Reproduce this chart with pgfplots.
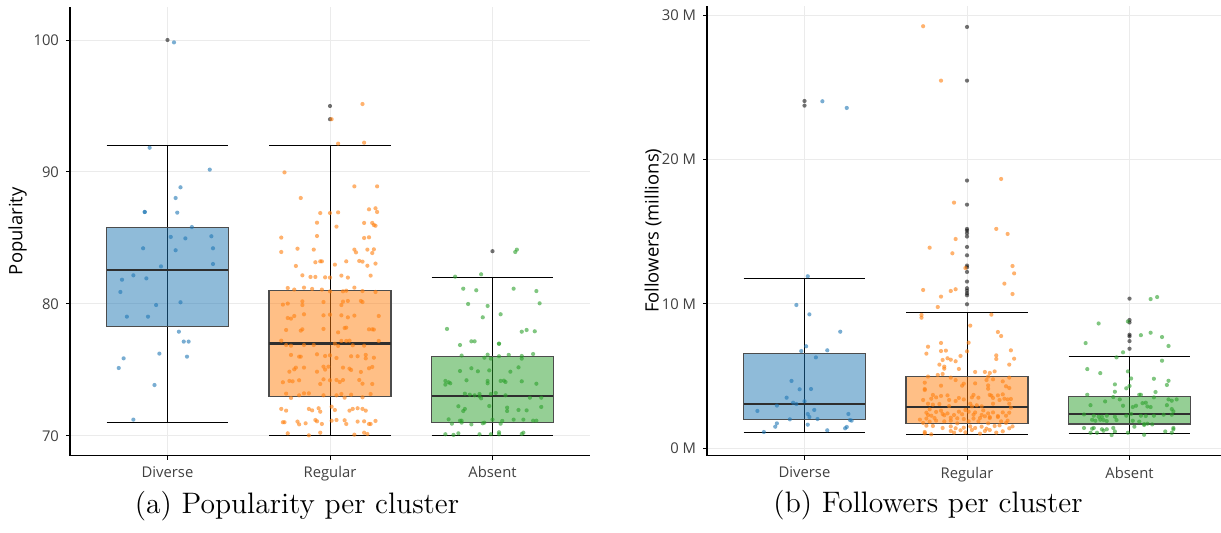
\documentclass[border=0pt]{standalone}
\usepackage{fontspec}
\usepackage{pgfplots}
\usepackage{pgfplotstable}
\pgfplotsset{compat=1.18}
\newfontfamily\osans{Open Sans}
\definecolor{tabblue}{HTML}{1F77B4}
\definecolor{taborange}{HTML}{FF7F0E}
\definecolor{tabgreen}{HTML}{2CA02C}
\definecolor{gridc}{HTML}{EBEBEB}

% ---------- Popularity (left) ----------
\pgfplotstableread{
dx v
0.04 99.82
-0.11 91.84
0.26 90.18
0.08 88.84
0.05 88.03
-0.14 86.97
-0.14 86.97
0.06 86.92
0.15 85.83
0.02 85.08
0.11 84.97
0.27 85.13
-0.15 84.22
0.05 84.07
0.28 84.22
0.28 83.03
-0.04 82.85
-0.21 82.17
-0.28 81.84
-0.13 81.94
-0.29 80.91
-0.07 79.92
0.08 80.13
-0.25 79.04
-0.12 79.04
0.07 77.90
0.10 77.15
0.13 77.15
-0.05 76.24
-0.27 75.88
0.12 76.01
-0.30 75.15
-0.08 73.86
-0.21 71.24
}\pdiv
\pgfplotstableread{
v
100
}\pdivout
\pgfplotstableread{
dx v
0.20 95.15
0.01 94.00
0.05 92.15
0.21 92.22
-0.28 89.97
0.15 88.91
0.29 88.91
-0.18 88.03
-0.06 86.89
0.00 86.89
0.05 86.94
0.24 87.17
0.28 87.25
0.29 86.97
-0.08 86.16
0.04 85.86
0.21 86.14
0.26 86.14
0.27 85.98
0.28 85.93
-0.30 85.03
-0.08 85.15
0.21 85.00
0.24 85.05
-0.30 83.94
-0.20 84.19
-0.10 84.12
0.15 84.12
0.16 83.91
0.23 84.12
0.27 84.14
0.26 83.86
-0.21 82.88
-0.09 83.16
-0.06 83.23
-0.05 83.23
0.03 82.98
0.10 83.23
0.18 83.26
0.20 83.21
0.23 82.90
0.28 83.06
-0.17 82.17
-0.12 82.05
-0.09 82.05
-0.03 82.02
0.00 82.00
0.07 82.15
0.11 82.00
0.25 82.15
-0.26 81.21
-0.22 81.09
-0.16 81.24
-0.11 81.14
-0.05 81.09
0.00 80.96
0.08 80.96
0.10 81.01
0.15 81.24
0.20 80.98
0.28 80.91
-0.29 79.95
-0.26 80.03
-0.17 80.20
-0.17 79.92
-0.04 80.15
0.07 79.92
0.08 80.18
0.11 80.23
0.19 80.23
0.20 80.15
-0.26 78.94
-0.24 78.89
-0.22 79.09
-0.16 79.22
-0.04 79.14
0.00 79.19
0.07 79.14
0.11 78.99
0.15 79.12
0.30 79.09
-0.27 78.03
-0.18 77.98
-0.17 78.08
-0.04 78.11
0.05 77.85
0.09 78.18
0.10 78.21
0.24 78.08
0.26 78.08
0.27 78.06
-0.30 77.22
-0.24 76.84
-0.27 76.89
-0.16 76.89
-0.10 76.89
0.03 76.99
0.05 76.82
0.07 77.20
0.10 77.20
0.12 77.22
0.14 76.87
0.21 76.84
0.30 77.20
-0.24 76.14
-0.19 76.01
-0.18 76.01
-0.08 76.19
-0.03 76.06
0.00 76.11
0.04 75.91
0.13 76.04
0.17 76.04
0.22 76.14
0.22 75.88
0.27 75.93
-0.25 74.87
-0.22 75.05
-0.21 75.18
-0.16 75.18
-0.08 74.87
-0.04 75.25
-0.03 75.03
-0.01 75.25
0.08 75.18
0.12 75.10
0.13 75.00
0.19 74.85
0.24 75.13
0.26 75.23
-0.29 74.07
-0.25 74.17
-0.23 74.14
-0.19 74.22
-0.06 73.94
-0.04 74.29
0.00 74.22
0.04 74.24
0.06 74.09
0.08 74.24
0.18 74.24
0.20 73.96
0.26 73.94
-0.27 73.21
-0.19 73.08
-0.16 73.23
-0.13 73.23
-0.04 73.08
0.04 73.08
0.07 73.18
0.09 72.90
0.13 73.13
0.20 72.93
0.25 73.18
-0.24 72.88
-0.30 72.05
-0.27 71.92
-0.13 72.05
-0.11 71.94
-0.07 72.10
-0.06 71.84
0.01 72.22
0.03 71.97
0.12 71.92
0.14 72.05
0.17 72.10
0.20 72.05
0.22 71.92
-0.29 71.04
-0.28 71.04
-0.20 71.09
-0.19 70.88
-0.15 70.96
-0.09 71.21
-0.08 71.11
-0.05 70.91
0.01 71.16
0.04 71.21
0.09 71.19
0.10 70.91
0.17 71.09
0.21 71.11
0.24 70.91
0.25 70.91
0.28 71.14
-0.26 70.20
-0.13 70.05
-0.06 70.25
0.15 70.10
0.21 70.25
0.23 70.15
}\preg
\pgfplotstableread{
v
95
94
}\pregout
\pgfplotstableread{
dx v
0.14 83.94
0.15 84.12
-0.23 82.07
-0.07 82.25
-0.18 81.16
-0.10 81.04
0.13 81.16
0.27 80.98
0.29 80.05
-0.15 80.00
-0.03 79.85
0.05 79.22
-0.06 78.99
-0.28 78.11
0.18 77.90
0.21 78.03
0.26 77.93
-0.13 77.17
-0.11 77.17
0.04 76.99
0.04 76.99
-0.20 76.89
-0.19 76.09
-0.05 75.93
-0.03 76.16
-0.01 75.86
0.04 76.04
0.10 76.14
0.18 76.06
0.18 75.86
0.25 76.21
-0.20 74.92
-0.13 75.13
-0.09 74.90
-0.02 74.97
0.11 74.87
0.16 75.20
-0.29 74.17
-0.29 73.89
-0.27 74.07
-0.26 73.99
-0.16 74.22
-0.03 74.17
-0.03 73.99
0.05 74.17
0.07 74.19
0.08 74.09
0.18 74.14
0.27 73.96
-0.17 73.21
-0.14 73.13
-0.11 73.08
-0.08 73.18
-0.08 73.00
-0.07 72.85
-0.01 73.18
0.02 73.26
0.08 73.08
0.23 72.90
0.30 72.90
-0.02 72.27
-0.21 72.25
-0.17 72.05
-0.18 71.89
0.09 72.15
0.09 71.89
0.16 71.97
0.21 71.94
0.30 72.20
-0.27 71.26
-0.25 70.93
-0.20 71.16
-0.19 71.01
-0.19 71.16
-0.13 70.88
-0.06 70.96
-0.05 71.01
0.00 71.24
0.05 70.93
0.06 71.14
0.13 71.24
0.19 71.24
0.25 71.16
0.27 71.16
-0.29 70.13
-0.24 70.08
-0.21 70.20
-0.08 70.13
-0.01 70.13
0.04 70.28
0.04 70.13
0.18 70.15
0.19 70.25
}\pabs
\pgfplotstableread{
v
84
}\pabsout

% ---------- Followers (right), millions ----------
\pgfplotstableread{
dx v
0.11 24.04
0.26 23.58
0.02 11.92
-0.05 9.93
0.03 9.28
0.22 8.08
0.01 7.07
-0.02 6.74
0.14 6.79
0.07 6.30
-0.08 4.67
-0.03 4.09
0.04 4.11
-0.11 3.51
-0.07 3.16
-0.05 3.07
0.00 3.26
-0.17 2.96
-0.29 2.59
0.06 2.66
0.02 2.38
0.03 2.17
0.27 2.38
0.29 1.92
0.28 1.96
-0.09 2.01
0.08 2.03
-0.17 1.73
-0.18 1.50
0.02 1.64
0.26 1.48
0.25 1.39
-0.25 1.13
0.14 1.25
}\fdiv
\pgfplotstableread{
v
24.06
23.74
}\fdivout
\pgfplotstableread{
dx v
-0.27 29.24
-0.16 25.47
0.21 18.66
-0.08 17.02
0.18 15.20
0.25 14.85
-0.07 14.50
-0.23 13.90
-0.09 13.51
0.28 12.63
0.29 12.12
-0.01 12.49
0.23 11.41
-0.27 10.97
-0.10 10.90
-0.07 11.02
-0.16 10.51
0.28 10.69
-0.18 9.79
-0.28 9.24
-0.28 9.05
0.15 9.26
0.02 8.50
0.19 8.06
0.21 7.78
0.01 7.32
-0.16 7.30
-0.24 7.04
-0.16 6.74
-0.13 6.77
-0.25 6.56
0.00 6.72
0.27 6.79
0.18 6.44
0.18 6.19
0.29 6.21
-0.04 6.40
-0.15 6.12
-0.12 6.24
-0.10 6.14
-0.07 6.03
0.26 5.80
-0.17 5.80
-0.14 5.66
-0.14 5.52
-0.05 5.50
-0.18 5.08
-0.15 5.15
0.05 5.29
0.11 5.29
0.14 5.22
0.17 5.33
-0.24 4.97
-0.10 4.90
0.13 4.97
0.26 4.90
-0.26 4.55
-0.07 4.73
0.12 4.73
0.16 4.78
0.22 4.64
-0.16 4.34
-0.03 4.34
-0.02 4.48
0.05 4.50
0.13 4.36
0.24 4.30
-0.26 4.11
-0.26 4.04
0.13 4.13
0.26 4.18
-0.21 3.70
-0.19 3.53
-0.16 3.63
-0.12 3.67
-0.05 3.49
-0.02 3.39
0.03 3.53
0.04 3.70
0.07 3.51
0.14 3.70
0.15 3.65
0.16 3.49
0.19 3.67
0.22 3.74
0.23 3.44
-0.27 3.35
-0.22 3.44
-0.11 3.35
0.20 3.35
0.25 3.39
0.27 3.42
-0.24 3.09
-0.21 3.03
-0.17 3.07
-0.07 3.28
0.02 3.09
0.06 2.98
0.16 3.09
0.26 3.09
-0.23 2.70
-0.11 2.93
0.03 2.91
0.09 2.91
0.27 2.82
-0.25 2.47
-0.19 2.52
-0.16 2.61
-0.12 2.42
-0.05 2.54
-0.01 2.66
0.01 2.54
0.05 2.49
0.10 2.63
0.13 2.42
0.16 2.49
0.22 2.49
0.26 2.47
-0.24 2.31
-0.22 2.26
-0.15 2.38
-0.14 2.29
-0.08 2.31
-0.03 2.36
0.04 2.33
0.09 2.31
0.11 2.22
0.14 2.17
0.19 2.24
0.24 2.26
-0.29 1.99
-0.25 2.06
-0.20 2.10
-0.10 2.12
-0.06 2.08
-0.02 2.03
0.04 2.06
0.08 2.10
0.14 2.10
0.19 2.17
0.25 1.92
-0.27 1.76
-0.23 1.85
-0.19 1.92
-0.14 1.87
-0.10 1.92
-0.06 1.73
0.01 1.87
0.07 1.87
0.13 1.73
0.21 1.87
0.24 1.76
-0.25 1.57
-0.21 1.55
-0.15 1.41
-0.10 1.52
-0.07 1.39
-0.02 1.43
0.02 1.52
0.05 1.41
0.09 1.50
0.12 1.36
0.17 1.55
0.20 1.59
0.26 1.39
0.28 1.52
-0.26 1.13
-0.22 0.97
-0.26 1.04
-0.10 1.20
-0.04 1.25
-0.01 1.11
0.03 1.27
0.08 1.02
0.11 1.20
0.14 1.27
0.18 1.09
0.22 1.18
-0.08 1.09
}\freg
\pgfplotstableread{
v
29.19
25.47
18.55
16.88
15.20
15.08
14.90
14.67
13.95
13.37
12.66
12.54
12.22
11.55
11.09
10.92
10.74
10.60
9.98
}\fregout
\pgfplotstableread{
dx v
0.13 10.34
0.17 10.48
-0.19 8.65
-0.01 8.79
0.07 7.84
0.13 8.01
0.20 7.71
-0.27 7.29
0.24 7.09
-0.04 6.65
-0.08 6.30
0.20 6.07
-0.26 5.49
-0.18 5.21
-0.01 5.33
0.01 4.84
0.15 4.82
0.24 4.68
-0.09 4.43
0.23 4.39
0.00 4.32
-0.02 4.16
-0.09 3.92
0.16 3.90
-0.26 3.71
-0.10 3.55
0.06 3.71
0.07 3.71
0.15 3.53
-0.15 3.25
-0.06 3.39
0.24 3.39
0.29 3.39
0.26 3.30
-0.24 2.99
-0.04 2.95
0.02 2.86
0.04 2.95
0.08 3.13
0.10 3.16
0.11 2.90
0.13 2.86
0.23 2.99
0.26 2.72
0.27 2.56
-0.28 2.35
-0.22 2.26
-0.19 2.19
-0.17 2.19
-0.14 2.26
-0.09 2.19
-0.02 2.26
0.01 2.38
0.07 2.26
0.10 2.24
0.15 2.26
0.21 2.33
0.26 2.33
-0.23 1.98
-0.21 1.91
-0.18 1.98
-0.16 1.96
-0.14 1.89
-0.08 1.96
0.02 1.91
0.06 1.85
0.09 1.68
0.11 1.71
0.14 1.66
-0.28 1.41
-0.23 1.36
-0.22 1.41
-0.17 1.32
-0.14 1.32
-0.10 1.41
0.03 1.50
0.09 1.62
0.27 1.41
0.27 1.32
-0.24 1.08
-0.20 1.08
-0.16 1.22
-0.11 0.92
-0.09 1.17
-0.01 1.08
0.09 0.94
0.22 1.17
0.26 1.08
}\fabs
\pgfplotstableread{
v
10.37
8.89
8.72
7.87
7.76
7.43
6.90
}\fabsout

\pgfplotsset{
  panel/.style={
    scale only axis,
    anchor=south west,
    axis x line=bottom, axis y line=left,
    axis line style={-, line width=0.75pt, black},
    tick align=outside,
    major tick length=2pt,
    every tick/.style={black, line width=0.5pt},
    xmajorgrids, ymajorgrids,
    grid style={gridc, line width=0.5pt},
    xmin=0.4,
    xtick={1,2,3}, xticklabels={Diverse,Regular,Absent},
    tick label style={font=\osans\fontsize{7.4}{9}\selectfont, text=black!75},
  },
  pts/.style={only marks, mark=*, mark size=1.05pt, color=#1,
    mark options={line width=0pt, draw=#1, fill=#1, draw opacity=0, fill opacity=0.6}},
  outl/.style={only marks, mark=*, mark size=1.05pt, color=black,
    mark options={line width=0pt, draw=black, fill=black, draw opacity=0, fill opacity=0.55}},
  boxfill/.style={draw=none, fill=#1, fill opacity=0.5},
  boxline/.style={draw=black!70, line width=0.6pt},
  medline/.style={draw=black!82, line width=1.1pt},
  whisk/.style={draw=black, line width=0.5pt},
}

\begin{document}
\begin{tikzpicture}
% ================= Left panel =================
\begin{axis}[panel,
  at={(35pt,38.25pt)}, width=260pt, height=224.25pt,
  xmax=3.6, ymin=68.52, ymax=102.5,
  ytick={70,80,90,100}, yticklabels={70,80,90,100},
  ylabel={Popularity},
  every axis y label/.style={at={(axis description cs:0,0.5)}, xshift=-26.25pt, rotate=90, anchor=center, font=\osans\fontsize{9.2}{11}\selectfont},
]
% whiskers
\addplot[whisk] coordinates {(1,71) (1,92)};
\addplot[whisk] coordinates {(0.625,71) (1.375,71)};
\addplot[whisk] coordinates {(0.625,92) (1.375,92)};
\addplot[whisk] coordinates {(2,70) (2,92)};
\addplot[whisk] coordinates {(1.625,70) (2.375,70)};
\addplot[whisk] coordinates {(1.625,92) (2.375,92)};
\addplot[whisk] coordinates {(3,70) (3,82)};
\addplot[whisk] coordinates {(2.625,70) (3.375,70)};
\addplot[whisk] coordinates {(2.625,82) (3.375,82)};
% box fills
\addplot[boxfill=tabblue] coordinates {(0.625,78.3) (1.375,78.3) (1.375,85.8) (0.625,85.8)} -- cycle;
\addplot[boxfill=taborange] coordinates {(1.625,73) (2.375,73) (2.375,81) (1.625,81)} -- cycle;
\addplot[boxfill=tabgreen] coordinates {(2.625,71) (3.375,71) (3.375,76) (2.625,76)} -- cycle;
% box outlines
\addplot[boxline] coordinates {(0.625,78.3) (1.375,78.3) (1.375,85.8) (0.625,85.8)} -- cycle;
\addplot[boxline] coordinates {(1.625,73) (2.375,73) (2.375,81) (1.625,81)} -- cycle;
\addplot[boxline] coordinates {(2.625,71) (3.375,71) (3.375,76) (2.625,76)} -- cycle;
% medians
\addplot[medline] coordinates {(0.625,82.55) (1.375,82.55)};
\addplot[medline] coordinates {(1.625,77) (2.375,77)};
\addplot[medline] coordinates {(2.625,73) (3.375,73)};
% outliers
\addplot[outl] table[x expr=1, y=v] {\pdivout};
\addplot[outl] table[x expr=2, y=v] {\pregout};
\addplot[outl] table[x expr=3, y=v] {\pabsout};
% jittered points
\addplot[pts=tabblue] table[x expr=1+\thisrow{dx}, y=v] {\pdiv};
\addplot[pts=taborange] table[x expr=2+\thisrow{dx}, y=v] {\preg};
\addplot[pts=tabgreen] table[x expr=3+\thisrow{dx}, y=v] {\pabs};
\end{axis}

% ================= Right panel =================
\begin{axis}[panel,
  at={(353.5pt,38.15pt)}, width=257pt, height=224.85pt,
  xmax=3.563, ymin=-0.51, ymax=30.64,
  ytick={0,10,20,30}, yticklabels={0 M,10 M,20 M,30 M},
  ylabel={Followers (millions)},
  every axis y label/.style={at={(axis description cs:0,0.5)}, xshift=-27pt, rotate=90, anchor=center, font=\osans\fontsize{9.2}{11}\selectfont},
]
\addplot[whisk] coordinates {(1,1.13) (1,11.78)};
\addplot[whisk] coordinates {(0.625,1.13) (1.375,1.13)};
\addplot[whisk] coordinates {(0.625,11.78) (1.375,11.78)};
\addplot[whisk] coordinates {(2,0.99) (2,9.4)};
\addplot[whisk] coordinates {(1.625,0.99) (2.375,0.99)};
\addplot[whisk] coordinates {(1.625,9.4) (2.375,9.4)};
\addplot[whisk] coordinates {(3,1.04) (3,6.33)};
\addplot[whisk] coordinates {(2.625,1.04) (3.375,1.04)};
\addplot[whisk] coordinates {(2.625,6.33) (3.375,6.33)};
\addplot[boxfill=tabblue] coordinates {(0.625,1.98) (1.375,1.98) (1.375,6.58) (0.625,6.58)} -- cycle;
\addplot[boxfill=taborange] coordinates {(1.625,1.73) (2.375,1.73) (2.375,4.96) (1.625,4.96)} -- cycle;
\addplot[boxfill=tabgreen] coordinates {(2.625,1.69) (3.375,1.69) (3.375,3.61) (2.625,3.61)} -- cycle;
\addplot[boxline] coordinates {(0.625,1.98) (1.375,1.98) (1.375,6.58) (0.625,6.58)} -- cycle;
\addplot[boxline] coordinates {(1.625,1.73) (2.375,1.73) (2.375,4.96) (1.625,4.96)} -- cycle;
\addplot[boxline] coordinates {(2.625,1.69) (3.375,1.69) (3.375,3.61) (2.625,3.61)} -- cycle;
\addplot[medline] coordinates {(0.625,3.05) (1.375,3.05)};
\addplot[medline] coordinates {(1.625,2.84) (2.375,2.84)};
\addplot[medline] coordinates {(2.625,2.4) (3.375,2.4)};
\addplot[outl] table[x expr=1, y=v] {\fdivout};
\addplot[outl] table[x expr=2, y=v] {\fregout};
\addplot[outl] table[x expr=3, y=v] {\fabsout};
\addplot[pts=tabblue] table[x expr=1+\thisrow{dx}, y=v] {\fdiv};
\addplot[pts=taborange] table[x expr=2+\thisrow{dx}, y=v] {\freg};
\addplot[pts=tabgreen] table[x expr=3+\thisrow{dx}, y=v] {\fabs};
\end{axis}

\node[anchor=base, font=\fontsize{14.8}{17}\selectfont] at (148.5pt,9.5pt) {(a) Popularity per cluster};
\node[anchor=base, font=\fontsize{14.8}{17}\selectfont] at (464pt,10pt) {(b) Followers per cluster};

\pgfresetboundingbox
\path[use as bounding box] (0,0) rectangle (610.5pt,266pt);
\end{tikzpicture}
\end{document}
